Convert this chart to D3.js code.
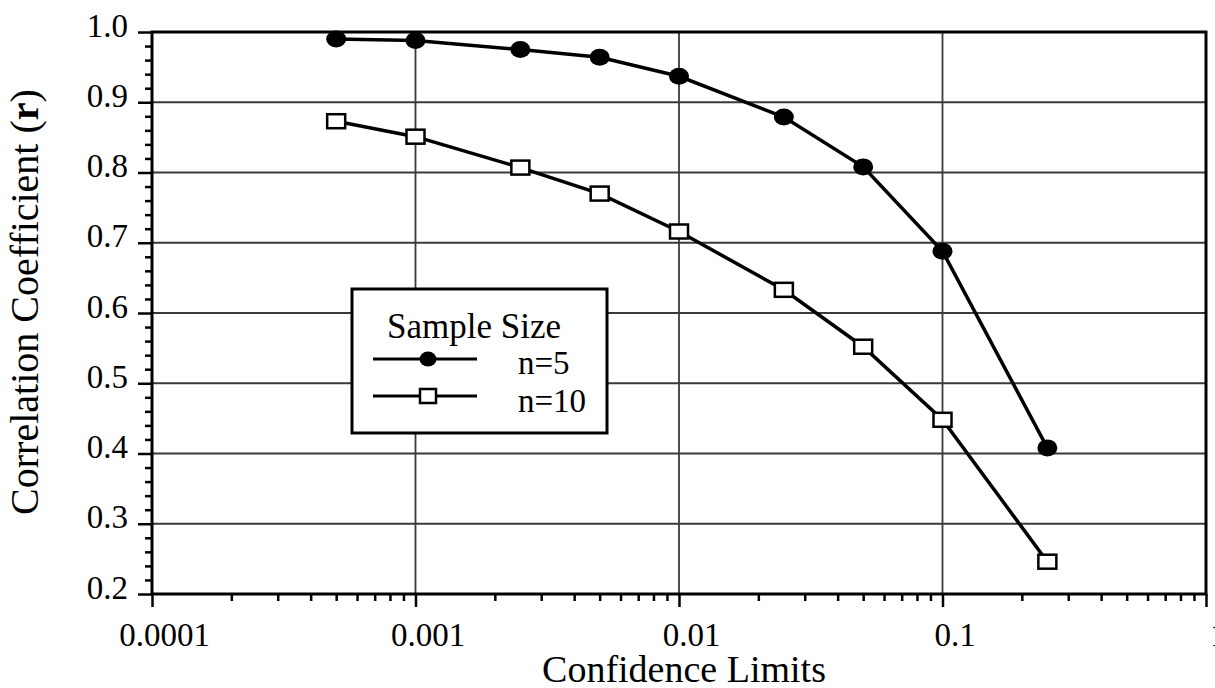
<!DOCTYPE html>
<html>
<head>
<meta charset="utf-8">
<title>Correlation Coefficient vs Confidence Limits</title>
<script src="https://d3js.org/d3.v7.min.js"></script>
<style>
  body { margin: 0; background: #fff; }
  svg { display: block; font-family: "Liberation Serif", "Times New Roman", serif; }
  .grid line { stroke: #3a3a3a; stroke-width: 1.8; }
  .axis path { display: none; }
  .axis line { stroke: #000; stroke-width: 2.5; }
  .axis text { font-size: 33px; fill: #000; font-family: "Liberation Serif", serif; }
</style>
</head>
<body>
<svg id="chart" width="1215" height="688"></svg>
<script>
// data
var limits = [0.0005, 0.001, 0.0025, 0.005, 0.01, 0.025, 0.05, 0.1, 0.25];
var n5 = [0.990, 0.988, 0.975, 0.964, 0.937, 0.879, 0.808, 0.688, 0.408];
var n10 = [0.873, 0.851, 0.807, 0.770, 0.716, 0.633, 0.552, 0.448, 0.246];
var xTicks = [0.0001, 0.001, 0.01, 0.1, 1];
var xTickLabels = ["0.0001", "0.001", "0.01", "0.1", "1"];
var yTicks = [0.2, 0.3, 0.4, 0.5, 0.6, 0.7, 0.8, 0.9, 1.0];
var seriesNames = ["n=5", "n=10"];

var svg = d3.select("#chart");
var mLeft = 152, mRight = 1206, mTop = 32, mBottom = 594;

var x = d3.scaleLog().domain([0.0001, 1]).range([mLeft, mRight]);
var y = d3.scaleLinear().domain([0.2, 1.0]).range([mBottom, mTop]);

// minor ticks
var xMinor = [];
for (var d = 0.0001; d < 1; d *= 10) {
  for (var k = 2; k <= 9; k++) xMinor.push(d * k);
}
var yMinor = d3.range(0.22, 1.0, 0.02).filter(function(v) {
  return Math.abs(v * 10 - Math.round(v * 10)) > 0.01;
});

// grid
var grid = svg.append("g").attr("class", "grid");
grid.selectAll("line.h").data(yTicks.slice(1, -1)).enter().append("line")
  .attr("class", "h")
  .attr("x1", mLeft).attr("x2", mRight)
  .attr("y1", function(d) { return y(d); })
  .attr("y2", function(d) { return y(d); });
grid.selectAll("line.v").data(xTicks.slice(1, -1)).enter().append("line")
  .attr("class", "v")
  .attr("y1", mTop).attr("y2", mBottom)
  .attr("x1", function(d) { return x(d); })
  .attr("x2", function(d) { return x(d); });

// x axis
svg.append("g").attr("class", "axis")
  .attr("transform", "translate(0," + mBottom + ")")
  .call(d3.axisBottom(x).tickValues(xMinor).tickSize(7).tickFormat(""));
var xAx = svg.append("g").attr("class", "axis")
  .attr("transform", "translate(0," + mBottom + ")")
  .call(d3.axisBottom(x).tickValues(xTicks).tickSize(13)
    .tickFormat(function(d, i) { return xTickLabels[i]; }));
xAx.selectAll("text").attr("dy", null).attr("y", 52).attr("x", 12);

// y axis
svg.append("g").attr("class", "axis")
  .attr("transform", "translate(" + mLeft + ",0)")
  .call(d3.axisLeft(y).tickValues(yMinor).tickSize(7).tickFormat(""));
var yAx = svg.append("g").attr("class", "axis")
  .attr("transform", "translate(" + mLeft + ",0)")
  .call(d3.axisLeft(y).tickValues(yTicks).tickSize(14).tickFormat(d3.format(".1f")));
yAx.selectAll("text").attr("dy", null).attr("y", 4).attr("x", -24);

// frame
svg.append("rect")
  .attr("x", mLeft).attr("y", mTop)
  .attr("width", mRight - mLeft).attr("height", mBottom - mTop)
  .attr("fill", "none").attr("stroke", "#000").attr("stroke-width", 3);

// axis titles
svg.append("text")
  .attr("x", 684).attr("y", 682)
  .attr("text-anchor", "middle")
  .style("font-size", "38px")
  .text("Confidence Limits");

var yt = svg.append("text")
  .attr("transform", "translate(38,302) rotate(-90)")
  .attr("text-anchor", "middle")
  .style("font-size", "40px");
yt.append("tspan").text("Correlation Coefficient (");
yt.append("tspan").style("font-weight", "bold").text("r");
yt.append("tspan").text(")");

// series
var line = d3.line()
  .x(function(d) { return x(d[0]); })
  .y(function(d) { return y(d[1]); });

var s5 = limits.map(function(l, i) { return [l, n5[i]]; });
var s10 = limits.map(function(l, i) { return [l, n10[i]]; });

svg.append("path").datum(s5).attr("d", line)
  .attr("fill", "none").attr("stroke", "#000").attr("stroke-width", 3.5);
svg.append("path").datum(s10).attr("d", line)
  .attr("fill", "none").attr("stroke", "#000").attr("stroke-width", 3.5);

svg.selectAll("ellipse.n5").data(s5).enter().append("ellipse")
  .attr("class", "n5")
  .attr("cx", function(d) { return x(d[0]); })
  .attr("cy", function(d) { return y(d[1]); })
  .attr("rx", 10).attr("ry", 8.5)
  .attr("fill", "#000");

svg.selectAll("rect.n10").data(s10).enter().append("rect")
  .attr("class", "n10")
  .attr("x", function(d) { return x(d[0]) - 9; })
  .attr("y", function(d) { return y(d[1]) - 7; })
  .attr("width", 18).attr("height", 14)
  .attr("fill", "#fff").attr("stroke", "#000").attr("stroke-width", 2.5);

// legend
var lg = svg.append("g").attr("transform", "translate(352,289)");
lg.append("rect").attr("width", 255).attr("height", 144)
  .attr("fill", "#fff").attr("stroke", "#000").attr("stroke-width", 3);
lg.append("text").attr("x", 35).attr("y", 49)
  .style("font-size", "35px").text("Sample Size");

lg.append("line").attr("x1", 21).attr("x2", 125).attr("y1", 70).attr("y2", 70)
  .attr("stroke", "#000").attr("stroke-width", 3);
lg.append("ellipse").attr("cx", 76).attr("cy", 70).attr("rx", 8.5).attr("ry", 7.5)
  .attr("fill", "#000");
lg.append("text").attr("x", 166).attr("y", 85)
  .style("font-size", "33px").text(seriesNames[0]);

lg.append("line").attr("x1", 21).attr("x2", 125).attr("y1", 107).attr("y2", 107)
  .attr("stroke", "#000").attr("stroke-width", 3);
lg.append("rect").attr("x", 68).attr("y", 100).attr("width", 16).attr("height", 14)
  .attr("fill", "#fff").attr("stroke", "#000").attr("stroke-width", 2.5);
lg.append("text").attr("x", 166).attr("y", 123)
  .style("font-size", "33px").text(seriesNames[1]);
</script>
</body>
</html>
